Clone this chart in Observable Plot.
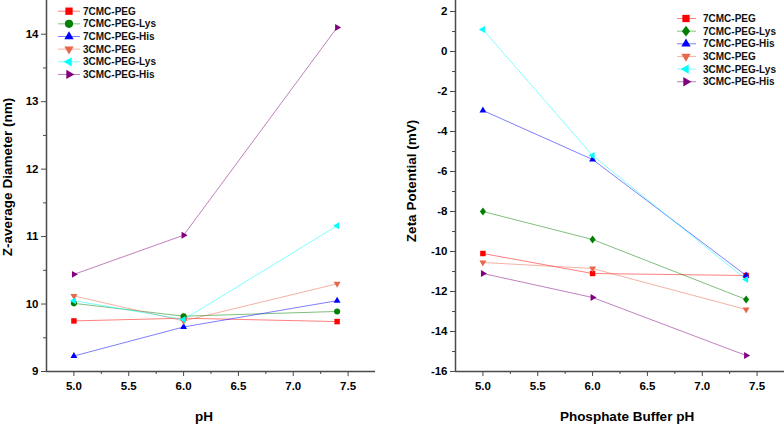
<!DOCTYPE html>
<html>
<head>
<meta charset="utf-8">
<script src="https://cdn.jsdelivr.net/npm/d3@7"></script>
<script src="https://cdn.jsdelivr.net/npm/@observablehq/plot@0.6"></script>
<style>
  html, body { margin: 0; padding: 0; background: #fff; }
  #wrap { position: relative; width: 784px; height: 424px; display: flex; }
  #wrap > div { width: 392px; height: 424px; }
  svg { overflow: visible; }
  .legend { position: absolute; top: 0; left: 0; pointer-events: none; }
</style>
</head>
<body>
<div id="wrap"><div id="left"></div><div id="right"></div><svg class="legend" id="legend" width="784" height="424"></svg></div>
<script>
// ---------- data ----------
const series = ["7CMC-PEG", "7CMC-PEG-Lys", "7CMC-PEG-His", "3CMC-PEG", "3CMC-PEG-Lys", "3CMC-PEG-His"];
const colors = ["#ff0000", "#008000", "#0000ff", "#e8674a", "#00ffff", "#800080"];
const leftSymbols = ["square", "circle", "up", "down", "left", "right"];
const rightSymbols = ["square", "diamond", "up", "down", "left", "right"];
const phValues = [5.0, 6.0, 7.4];

// Z-average diameter (nm)
const zPEG7 = [9.75, 9.79, 9.74];
const zLys7 = [10.01, 9.82, 9.89];
const zHis7 = [9.23, 9.66, 10.05];
const zPEG3 = [10.12, 9.75, 10.30];
const zLys3 = [10.05, 9.77, 11.16];
const zHis3 = [10.44, 11.02, 14.10];

// Zeta potential (mV)
const zetaPEG7 = [-10.1, -11.1, -11.2];
const zetaLys7 = [-8.0, -9.4, -12.4];
const zetaHis7 = [-2.95, -5.4, -11.2];
const zetaPEG3 = [-10.55, -10.85, -12.9];
const zetaLys3 = [1.1, -5.2, -11.4];
const zetaHis3 = [-11.1, -12.3, -15.2];

const xTicks = [5.0, 5.5, 6.0, 6.5, 7.0, 7.5];
const xMinor = [5.25, 5.75, 6.25, 6.75, 7.25];
const yLeftTicks = [9, 10, 11, 12, 13, 14];
const yLeftMinor = [9.5, 10.5, 11.5, 12.5, 13.5];
const yRightTicks = [-16, -14, -12, -10, -8, -6, -4, -2, 0, 2];
const yRightMinor = [-15, -13, -11, -9, -7, -5, -3, -1, 1];

const leftValues = [zPEG7, zLys7, zHis7, zPEG3, zLys3, zHis3];
const rightValues = [zetaPEG7, zetaLys7, zetaHis7, zetaPEG3, zetaLys3, zetaHis3];

// ---------- symbols ----------
function triangle(angleDeg) {
  return { draw(ctx, size) {
    const R = Math.sqrt(size / Math.PI) * 1.25;
    for (let k = 0; k < 3; k++) {
      const a = (angleDeg + k * 120) * Math.PI / 180;
      const px = R * Math.cos(a), py = R * Math.sin(a);
      k === 0 ? ctx.moveTo(px, py) : ctx.lineTo(px, py);
    }
    ctx.closePath();
  }};
}
const symbols = {
  square: { draw(ctx, size) { const h = Math.sqrt(size / Math.PI) * 0.85; ctx.rect(-h, -h, 2 * h, 2 * h); } },
  circle: { draw(ctx, size) { const r = Math.sqrt(size / Math.PI) * 0.95; ctx.moveTo(r, 0); ctx.arc(0, 0, r, 0, 2 * Math.PI); } },
  diamond: { draw(ctx, size) { const r = Math.sqrt(size / Math.PI); ctx.moveTo(0, -1.25 * r); ctx.lineTo(0.95 * r, 0); ctx.lineTo(0, 1.25 * r); ctx.lineTo(-0.95 * r, 0); ctx.closePath(); } },
  up: triangle(-90), down: triangle(90), left: triangle(180), right: triangle(0)
};

function rowsFor(values) {
  const rows = [];
  series.forEach((s, i) => phValues.forEach((p, j) => rows.push({ series: s, i, ph: p, v: values[i][j] })));
  return rows;
}

const FONT = "'Liberation Sans', Arial, Helvetica, sans-serif";
const AX = "#4a4a4a";

function panel({ values, syms, yDomain, yTicks, yMinor, marginLeft, marginRight, yTitle, xTitle, yTitleDx, yTitleDy, xTitleDx }) {
  const rows = rowsFor(values);
  const marks = [
    Plot.axisX({ ticks: xMinor, tickSize: 3, tickFormat: () => "", label: null, stroke: AX }),
    Plot.axisX({ ticks: xTicks, tickSize: 5, tickPadding: 5, tickFormat: d3.format(".1f"), label: null, stroke: AX, fill: "#000" }),
    Plot.axisY({ ticks: yMinor, tickSize: 3, tickFormat: () => "", label: null, stroke: AX }),
    Plot.axisY({ ticks: yTicks, tickSize: 5, tickPadding: 3, tickFormat: d => String(d), label: null, stroke: AX, fill: "#000" }),
    Plot.ruleX([4.75], { stroke: AX, strokeWidth: 1.5 }),
    Plot.ruleY([yDomain[0]], { stroke: AX, strokeWidth: 1.5 })
  ];
  series.forEach((s, i) => {
    marks.push(Plot.line(rows.filter(d => d.i === i), { x: "ph", y: "v", stroke: colors[i], strokeWidth: 1, strokeOpacity: 0.5 }));
  });
  series.forEach((s, i) => {
    marks.push(Plot.dot(rows.filter(d => d.i === i), { x: "ph", y: "v", r: 3.2, symbol: symbols[syms[i]], fill: colors[i], stroke: "none" }));
  });
  marks.push(Plot.text([yTitle], { text: d => d, frameAnchor: "left", textAnchor: "middle", rotate: -90, dx: yTitleDx, dy: yTitleDy, lineAnchor: "middle", fontSize: 13.5, fontWeight: "bold", fill: "#000" }));
  marks.push(Plot.text([xTitle], { text: d => d, frameAnchor: "bottom", textAnchor: "middle", dy: 45, dx: xTitleDx, lineAnchor: "middle", fontSize: 13.5, fontWeight: "bold", fill: "#000" }));
  return Plot.plot({
    width: 392, height: 424,
    marginLeft, marginRight, marginTop: 0, marginBottom: 53,
    x: { domain: [4.75, 7.75] },
    y: { domain: yDomain },
    style: { fontFamily: FONT, fontSize: "11.5px", fontWeight: "bold", overflow: "visible", background: "transparent" },
    marks
  });
}

document.getElementById("left").append(panel({
  values: leftValues, syms: leftSymbols, yDomain: [9, 14.5], yTicks: yLeftTicks, yMinor: yLeftMinor,
  marginLeft: 46, marginRight: 17, yTitle: "Z-average Diameter (nm)", xTitle: "pH",
  yTitleDx: -39, yTitleDy: -9, xTitleDx: -7
}));
document.getElementById("right").append(panel({
  values: rightValues, syms: rightSymbols, yDomain: [-16, 2.55], yTicks: yRightTicks, yMinor: yRightMinor,
  marginLeft: 63, marginRight: 0, yTitle: "Zeta Potential (mV)", xTitle: "Phosphate Buffer pH",
  yTitleDx: -44, yTitleDy: -5, xTitleDx: 7
}));

// ---------- legends (inside plot areas) ----------
const legend = d3.select("#legend");
function drawLegend({ x0, x1, xm, xt, y0, dy, syms }) {
  series.forEach((s, i) => {
    const y = y0 + i * dy;
    legend.append("line").attr("x1", x0).attr("x2", x1).attr("y1", y).attr("y2", y)
      .attr("stroke", colors[i]).attr("stroke-width", 1).attr("stroke-opacity", 0.5);
    legend.append("path").attr("transform", `translate(${xm},${y})`)
      .attr("d", d3.symbol(symbols[syms[i]], Math.PI * 4.3 * 4.3)())
      .attr("fill", colors[i]);
    legend.append("text").attr("x", xt).attr("y", y).attr("dy", "0.36em")
      .attr("font-family", FONT).attr("font-size", 10).attr("font-weight", "bold").attr("fill", "#111")
      .text(s);
  });
}
drawLegend({ x0: 58, x1: 80, xm: 69, xt: 83, y0: 11.2, dy: 12.65, syms: leftSymbols });
drawLegend({ x0: 677, x1: 696, xm: 686, xt: 703, y0: 18.5, dy: 12.65, syms: rightSymbols });
</script>
</body>
</html>
